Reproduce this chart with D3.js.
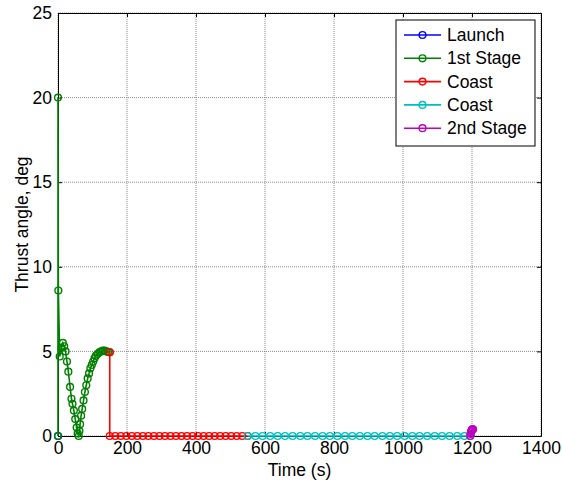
<!DOCTYPE html>
<html>
<head>
<meta charset="utf-8">
<script src="https://cdn.jsdelivr.net/npm/d3@7"></script>
<style>
  html, body { margin: 0; padding: 0; background: #fff; }
  svg { display: block; font-family: "Liberation Sans", Arial, sans-serif; }
</style>
</head>
<body>
<svg id="chart" width="562" height="484"></svg>
<script>
// Flight phase thrust angle history (time in s, angle in deg)
const xTicks = [0, 200, 400, 600, 800, 1000, 1200, 1400];
const yTicks = [0, 5, 10, 15, 20, 25];

const launchT = [0];
const launchV = [0];

const stage1T = [0, 0, 1, 5, 10, 14, 18, 22, 26, 30, 35, 39, 42, 46, 50, 54, 57, 60, 62, 64, 67, 70, 74, 78, 82, 86, 90, 94, 98, 102, 106, 110, 115, 120, 125, 130, 135, 140, 145, 150];
const stage1V = [0, 20, 8.6, 4.7, 5.2, 5.5, 5.3, 5.0, 4.4, 3.8, 2.9, 2.2, 1.9, 1.5, 1.0, 0.5, 0.15, 0.0, 0.3, 0.7, 1.2, 1.6, 2.1, 2.6, 3.0, 3.4, 3.7, 4.0, 4.2, 4.4, 4.6, 4.75, 4.85, 4.95, 5.0, 5.05, 5.05, 5.0, 4.97, 4.95];

const coast1T = [150, 150, 166, 182, 198, 214, 230, 246, 262, 278, 294, 310, 326, 342, 358, 374, 390, 406, 422, 438, 454, 470, 486, 502, 518, 534, 550];
const coast1V = [4.95, 0, 0, 0, 0, 0, 0, 0, 0, 0, 0, 0, 0, 0, 0, 0, 0, 0, 0, 0, 0, 0, 0, 0, 0, 0, 0];

const coast2T = [550, 572, 593, 615, 637, 658, 680, 702, 723, 745, 767, 788, 810, 832, 853, 875, 897, 918, 940, 962, 983, 1005, 1027, 1048, 1070, 1092, 1113, 1135, 1157, 1178, 1195];
const coast2V = [0, 0, 0, 0, 0, 0, 0, 0, 0, 0, 0, 0, 0, 0, 0, 0, 0, 0, 0, 0, 0, 0, 0, 0, 0, 0, 0, 0, 0, 0, 0];

const stage2T = [1195, 1196, 1197, 1198, 1199, 1200, 1201, 1202, 1203];
const stage2V = [0, 0.12, 0.22, 0.29, 0.34, 0.37, 0.39, 0.4, 0.4];

const seriesNames = ["Launch", "1st Stage", "Coast", "Coast", "2nd Stage"];
const seriesColors = ["#0000ff", "#008000", "#ff0000", "#00bfbf", "#bf00bf"];

const series = [
  [launchT, launchV],
  [stage1T, stage1V],
  [coast1T, coast1V],
  [coast2T, coast2V],
  [stage2T, stage2V]
].map(([t, v], i) => ({
  name: seriesNames[i],
  color: seriesColors[i],
  points: t.map((d, j) => ({ t: d, v: v[j] }))
}));

const FONT = "17.5px";
const svg = d3.select("#chart");
const m = { left: 58, right: 541, top: 13, bottom: 436 };

const x = d3.scaleLinear().domain([0, 1400]).range([m.left, m.right]);
const y = d3.scaleLinear().domain([0, 25]).range([m.bottom, m.top]);

// dotted grid
const grid = svg.append("g");
grid.selectAll("line.gx").data(xTicks).join("line")
  .attr("x1", d => x(d)).attr("x2", d => x(d))
  .attr("y1", m.top).attr("y2", m.bottom)
  .attr("stroke", "#6e6e6e").attr("stroke-width", 0.8)
  .attr("stroke-dasharray", "1,1");
grid.selectAll("line.gy").data(yTicks).join("line")
  .attr("y1", d => y(d)).attr("y2", d => y(d))
  .attr("x1", m.left).attr("x2", m.right)
  .attr("stroke", "#6e6e6e").attr("stroke-width", 0.8)
  .attr("stroke-dasharray", "1,1");

// axes with inward ticks
const fmt = d3.format("d");
const xAxis = d3.axisBottom(x).tickValues(xTicks).tickFormat(fmt).tickSizeInner(-4).tickSizeOuter(0).tickPadding(6);
const yAxis = d3.axisLeft(y).tickValues(yTicks).tickFormat(fmt).tickSizeInner(-4).tickSizeOuter(0).tickPadding(6);
const xTop = d3.axisTop(x).tickValues(xTicks).tickSizeInner(-4).tickSizeOuter(0).tickFormat("");
const yRight = d3.axisRight(y).tickValues(yTicks).tickSizeInner(-4).tickSizeOuter(0).tickFormat("");

function styleAxis(g) {
  g.selectAll("path").attr("stroke", "#000").attr("stroke-width", 1);
  g.selectAll("line").attr("stroke", "#000");
  g.selectAll("text").attr("fill", "#000").style("font-size", FONT).style("font-family", "'Liberation Sans', Arial, sans-serif");
}

svg.append("g").attr("transform", `translate(0,${m.bottom})`).call(xAxis).call(styleAxis);
svg.append("g").attr("transform", `translate(${m.left},0)`).call(yAxis).call(styleAxis);
svg.append("g").attr("transform", `translate(0,${m.top})`).call(xTop).call(styleAxis);
svg.append("g").attr("transform", `translate(${m.right},0)`).call(yRight).call(styleAxis);

// series lines with open circle markers
const line = d3.line().x(d => x(d.t)).y(d => y(d.v));
const plot = svg.append("g");
series.forEach(s => {
  const g = plot.append("g");
  g.append("path").datum(s.points)
    .attr("d", line).attr("fill", "none")
    .attr("stroke", s.color).attr("stroke-width", 1.6);
  g.selectAll("circle").data(s.points).join("circle")
    .attr("cx", d => x(d.t)).attr("cy", d => y(d.v)).attr("r", 3.4)
    .attr("fill", "none").attr("stroke", s.color).attr("stroke-width", 1.4);
});

// axis titles
svg.append("text")
  .attr("x", (m.left + m.right) / 2).attr("y", 476)
  .attr("text-anchor", "middle").style("font-size", FONT).text("Time (s)");
svg.append("text")
  .attr("transform", `translate(28,${(m.top + m.bottom) / 2}) rotate(-90)`)
  .attr("text-anchor", "middle").style("font-size", FONT).text("Thrust angle, deg");

// legend
const lg = svg.append("g").attr("transform", "translate(396,20)");
lg.append("rect").attr("x", 0).attr("y", 0).attr("width", 139).attr("height", 126)
  .attr("fill", "#fff").attr("stroke", "#000").attr("stroke-width", 1);
series.forEach((s, i) => {
  const cy = 15 + i * 23.3;
  lg.append("line").attr("x1", 8).attr("x2", 45).attr("y1", cy).attr("y2", cy)
    .attr("stroke", s.color).attr("stroke-width", 1.6);
  lg.append("circle").attr("cx", 26.5).attr("cy", cy).attr("r", 3.4)
    .attr("fill", "none").attr("stroke", s.color).attr("stroke-width", 1.4);
  lg.append("text").attr("x", 51).attr("y", cy + 6)
    .style("font-size", FONT).text(s.name);
});
</script>
</body>
</html>
